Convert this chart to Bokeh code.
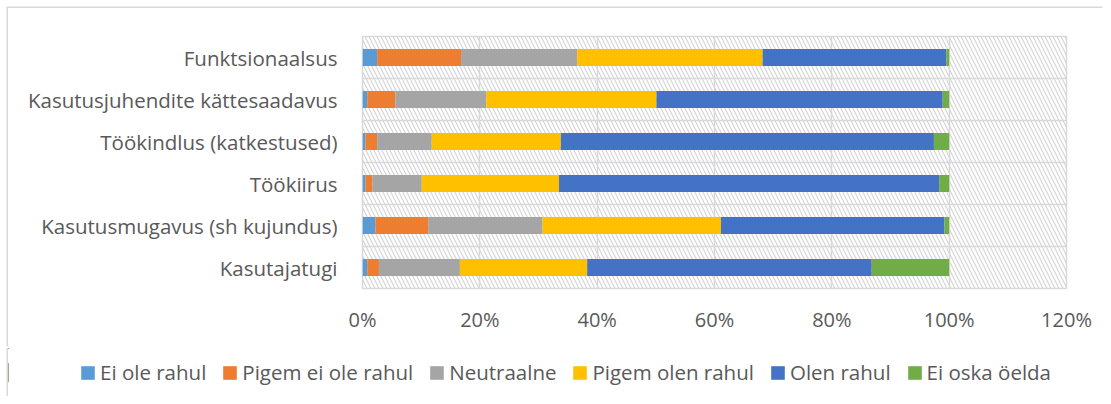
from bokeh.plotting import figure
from bokeh.layouts import column
from bokeh.models import (ColumnDataSource, Range1d, FixedTicker, NumeralTickFormatter,
                          Legend, LegendItem, BoxAnnotation)
from bokeh.embed import file_html
from bokeh.resources import INLINE

# Data (bottom to top)
categories = ["Kasutajatugi", "Kasutusmugavus (sh kujundus)", "Töökiirus",
              "Töökindlus (katkestused)", "Kasutusjuhendite kättesaadavus", "Funktsionaalsus"]
series = ["Ei ole rahul", "Pigem ei ole rahul", "Neutraalne",
          "Pigem olen rahul", "Olen rahul", "Ei oska öelda"]
ei_ole_rahul       = [0.8, 2.2, 0.5, 0.5, 0.8, 2.5]
pigem_ei_ole_rahul = [2.0, 9.0, 1.2, 2.0, 4.8, 14.3]
neutraalne         = [13.8, 19.5, 8.4, 9.3, 15.5, 19.8]
pigem_olen_rahul   = [21.7, 30.4, 23.4, 22.0, 29.0, 31.6]
olen_rahul         = [48.5, 38.1, 64.8, 63.6, 48.8, 31.3]
ei_oska_oelda      = [13.2, 0.8, 1.7, 2.6, 1.1, 0.5]
colors = ["#5B9BD5", "#ED7D31", "#A5A5A5", "#FFC000", "#4472C4", "#70AD47"]
x_ticks = [0, 0.2, 0.4, 0.6, 0.8, 1.0, 1.2]

values = [ei_ole_rahul, pigem_ei_ole_rahul, neutraalne, pigem_olen_rahul, olen_rahul, ei_oska_oelda]
keys = ["s%d" % i for i in range(len(series))]
ypos = [i + 0.5 for i in range(len(categories))]
data = {"y": ypos}
for k, v in zip(keys, values):
    data[k] = [x / 100.0 for x in v]
source = ColumnDataSource(data)

TXT = "#595959"
GRID = "#d9d9d9"
FONT = "Open Sans"
W = 1096

p = figure(width=W, height=340, output_backend="svg", toolbar_location=None,
           x_range=Range1d(0, 1.2), y_range=Range1d(0, len(categories)),
           min_border_left=354, min_border_right=38, min_border_top=28, min_border_bottom=60)
p.styles = {"box-shadow": "-1.5px -1.5px 0 0 #d9d9d9"}

p.outline_line_color = GRID
p.outline_line_width = 1.5
p.background_fill_color = "white"
p.border_fill_color = "white"

hatch = BoxAnnotation(fill_alpha=0, line_alpha=0, hatch_pattern="\\", hatch_color="#d4d4d4",
                      hatch_scale=8, hatch_weight=1.2, level="image")
p.add_layout(hatch)

renderers = p.hbar_stack(keys, y="y", height=0.4, color=colors, source=source, line_width=0)

# axes
p.xaxis.ticker = FixedTicker(ticks=x_ticks)
p.xaxis.formatter = NumeralTickFormatter(format="0%")
p.yaxis.ticker = FixedTicker(ticks=ypos)
p.yaxis.major_label_overrides = {y: c for y, c in zip(ypos, categories)}
for ax in (p.xaxis, p.yaxis):
    ax.axis_line_color = None
    ax.major_tick_line_color = None
    ax.minor_tick_line_color = None
    ax.major_label_text_color = TXT
    ax.major_label_text_font = FONT
p.xaxis.major_label_text_font_size = "20px"
p.yaxis.major_label_text_font_size = "20.5px"
p.yaxis.major_label_standoff = 19
p.xaxis.major_label_standoff = 11

p.xgrid.ticker = FixedTicker(ticks=x_ticks)
p.xgrid.grid_line_color = GRID
p.xgrid.grid_line_width = 1.5
p.ygrid.ticker = FixedTicker(ticks=list(range(1, len(categories))))
p.ygrid.grid_line_color = GRID
p.ygrid.grid_line_width = 1.5

# legend figure below the chart (its bars lie outside its visible x range)
lf = figure(width=W, height=48, output_backend="svg", toolbar_location=None,
            x_range=Range1d(5, 6), y_range=Range1d(0, 1), x_axis_type=None, y_axis_type=None,
            min_border=0, min_border_left=0, min_border_right=0, min_border_top=0, min_border_bottom=0)
lf.styles = {"box-shadow": "-1.5px 0 0 0 #d9d9d9"}
lf.outline_line_color = None
lf.xgrid.visible = False
lf.ygrid.visible = False
lf.background_fill_color = "white"
lf.border_fill_color = "white"
lrend = lf.hbar_stack(keys, y="y", height=0.4, color=colors, source=source, line_width=0)
items = [LegendItem(label=s, renderers=[r]) for s, r in zip(series, lrend)]
legend = Legend(items=items, orientation="horizontal", location=(71, 10),
                glyph_width=17, glyph_height=17, label_standoff=4, spacing=15,
                padding=0, margin=0, border_line_color=None, background_fill_alpha=0,
                label_text_font=FONT, label_text_font_size="20.5px", label_text_color=TXT)
lf.add_layout(legend, "center")

for f in (p, lf):
    try:
        f.frame_align = False
    except Exception:
        pass

layout = column(p, lf, spacing=0)
layout.styles = {"margin-left": "8px", "margin-top": "8px"}

open("out.html", "w").write(file_html(layout, INLINE))
